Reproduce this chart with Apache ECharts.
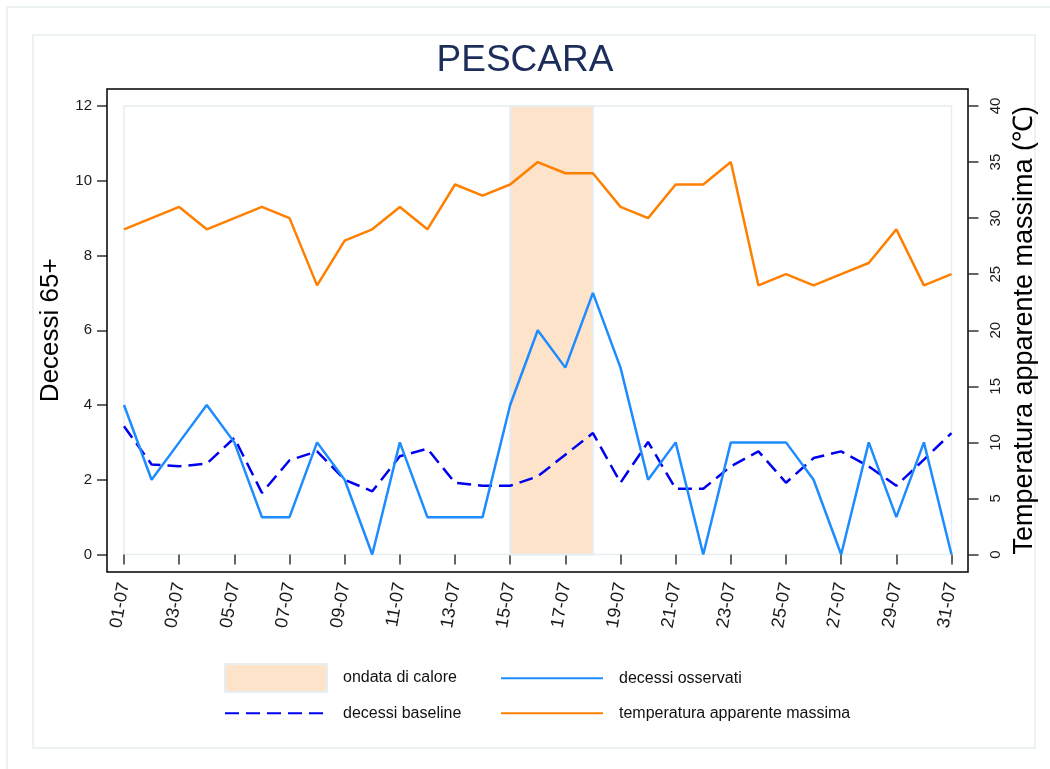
<!DOCTYPE html>
<html>
<head>
<meta charset="utf-8">
<title>PESCARA</title>
<script src="https://cdn.jsdelivr.net/npm/echarts@6/dist/echarts.min.js"></script>
<style>
  html, body { margin: 0; padding: 0; background: #fff; }
  #main { width: 1050px; height: 769px; }
</style>
</head>
<body>
<div id="main"></div>
<script>
// giorni di luglio
var giorni = ['01-07','02-07','03-07','04-07','05-07','06-07','07-07','08-07','09-07','10-07',
  '11-07','12-07','13-07','14-07','15-07','16-07','17-07','18-07','19-07','20-07',
  '21-07','22-07','23-07','24-07','25-07','26-07','27-07','28-07','29-07','30-07','31-07'];
var decessiOsservati = [4,2,3,4,3,1,1,3,2,0,3,1,1,1,4,6,5,7,5,2,3,0,3,3,3,2,0,3,1,3,0];
var decessiBaseline = [3.43,2.41,2.36,2.43,3.12,1.65,2.52,2.76,2.0,1.69,2.63,2.83,1.92,1.84,1.84,2.09,
  2.67,3.25,1.92,3.01,1.76,1.76,2.36,2.76,1.92,2.58,2.76,2.36,1.84,2.54,3.25];
var tempMassima = [29,30,31,29,30,31,30,24,28,29,31,29,33,32,33,35,34,34,31,30,33,33,35,24,25,24,25,26,29,24,25];
var ondataCalore = ['15-07', '18-07'];
var ticksSx = [0, 12, 2];
var ticksDx = [0, 40, 5];

var chart = echarts.init(document.getElementById('main'));
var font = '"Liberation Sans", Arial, sans-serif';
var pesca = '#fde3ca';
var bordoChiaro = '#e6eef1';

function legenda(nome, left, top, stile) {
  var item = {name: nome};
  if (stile) {
    item.icon = 'rect';
    item.itemStyle = stile;
  }
  return {
    data: [item],
    left: left,
    top: top,
    padding: 0,
    itemWidth: 102,
    itemHeight: 28,
    selectedMode: false,
    itemStyle: stile ? undefined : {opacity: 0},
    textStyle: {fontFamily: font, fontSize: 16, color: '#111', padding: [0, 0, 0, 11]}
  };
}

var option = {
  backgroundColor: '#fff',
  animation: false,
  title: {
    text: 'PESCARA',
    left: 'center',
    top: 37,
    textStyle: {fontFamily: font, fontSize: 37, fontWeight: 'normal', color: '#1c2d5a'}
  },
  graphic: [
    {type: 'rect', shape: {x: 7, y: 7, width: 1100, height: 900}, style: {fill: null, stroke: bordoChiaro, lineWidth: 1.5}, silent: true},
    {type: 'rect', shape: {x: 33, y: 35, width: 1002, height: 713}, style: {fill: null, stroke: bordoChiaro, lineWidth: 1.5}, silent: true},
    {type: 'rect', shape: {x: 107, y: 89, width: 861, height: 483}, style: {fill: null, stroke: '#000', lineWidth: 1.5}, silent: true, z: 100}
  ],
  legend: [
    legenda('ondata di calore', 224, 663, {color: pesca, borderColor: bordoChiaro, borderWidth: 2, opacity: 1}),
    legenda('decessi osservati', 500, 667),
    legenda('decessi baseline', 224, 702),
    legenda('temperatura apparente massima', 500, 702)
  ],
  grid: {
    left: 124, right: 98.5, top: 106, bottom: 214.5,
    show: true, borderColor: bordoChiaro, borderWidth: 1.5
  },
  xAxis: {
    type: 'category',
    data: giorni,
    boundaryGap: false,
    offset: 17,
    axisLine: {show: false},
    axisTick: {show: true, interval: 1, length: 10, lineStyle: {color: '#333', width: 1.5}},
    axisLabel: {interval: 1, rotate: 80, margin: 11, fontFamily: font, fontSize: 18, color: '#1a1a1a'},
    splitLine: {show: false}
  },
  yAxis: [
    {
      type: 'value',
      min: ticksSx[0], max: ticksSx[1], interval: ticksSx[2],
      position: 'left',
      offset: 17,
      name: 'Decessi 65+',
      nameLocation: 'middle',
      nameGap: 43,
      nameTextStyle: {fontFamily: font, fontSize: 26, color: '#000'},
      axisLine: {show: false},
      axisTick: {show: true, length: 10, lineStyle: {color: '#333', width: 1.5}},
      axisLabel: {margin: 15, fontFamily: font, fontSize: 15, color: '#1a1a1a'},
      splitLine: {show: false}
    },
    {
      type: 'value',
      min: ticksDx[0], max: ticksDx[1], interval: ticksDx[2],
      position: 'right',
      offset: 17,
      name: 'Temperatura apparente massima (℃)',
      nameLocation: 'middle',
      nameRotate: 90,
      nameGap: 30,
      nameTextStyle: {fontFamily: font, fontSize: 27, color: '#000'},
      axisLine: {show: false},
      axisTick: {show: true, length: 10, lineStyle: {color: '#333', width: 1.5}},
      axisLabel: {rotate: 90, margin: 20, fontFamily: font, fontSize: 15, color: '#1a1a1a'},
      splitLine: {show: false}
    }
  ],
  series: [
    {
      name: 'ondata di calore',
      type: 'line',
      data: [],
      symbol: 'none',
      z: 1,
      itemStyle: {color: pesca},
      lineStyle: {color: pesca},
      markArea: {
        silent: true,
        itemStyle: {color: pesca, borderColor: bordoChiaro, borderWidth: 2, opacity: 1},
        data: [[{xAxis: ondataCalore[0]}, {xAxis: ondataCalore[1]}]]
      }
    },
    {
      name: 'decessi osservati',
      type: 'line',
      data: decessiOsservati,
      symbol: 'none',
      z: 4,
      lineStyle: {color: '#1e8cff', width: 2.5},
      itemStyle: {color: '#1e8cff'}
    },
    {
      name: 'decessi baseline',
      type: 'line',
      data: decessiBaseline,
      symbol: 'none',
      z: 3,
      lineStyle: {color: '#0000f0', width: 2.5, type: [14, 7]},
      itemStyle: {color: '#0000f0'}
    },
    {
      name: 'temperatura apparente massima',
      type: 'line',
      yAxisIndex: 1,
      data: tempMassima,
      symbol: 'none',
      z: 3,
      lineStyle: {color: '#ff8000', width: 2.5},
      itemStyle: {color: '#ff8000'}
    }
  ]
};

chart.setOption(option);
window.addEventListener('resize', function () {
  chart.resize();
});
</script>
</body>
</html>
